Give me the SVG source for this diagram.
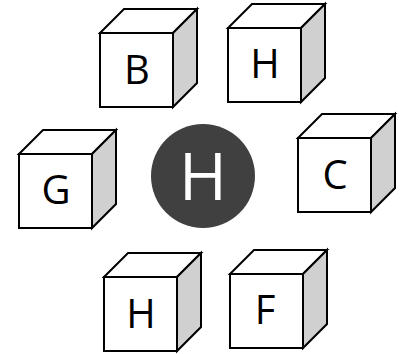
<svg xmlns="http://www.w3.org/2000/svg" width="402" height="354" viewBox="0 0 402 354">
<style>
.f{fill:#fff;stroke:#000;stroke-width:2;stroke-linejoin:miter}
.s{fill:#d0d0d0;stroke:#000;stroke-width:2}
.t{font-family:"Open Sans","Liberation Sans",sans-serif;font-size:40px;fill:#000;text-anchor:middle}
.c{font-family:"Open Sans","Liberation Sans",sans-serif;font-size:65px;fill:#fff;text-anchor:middle}
</style>
<defs>
<g id="cube">
<path class="f" d="M0,24 L24,0 L97,0 L73,24 Z"/>
<path class="s" d="M73,24 L97,0 L97,74 L73,98 Z"/>
<rect class="f" x="0" y="24" width="73" height="74"/>
</g>
</defs>
<g id="node-B"><use href="#cube" transform="translate(100,9)"/><text class="t" x="137" y="84">B</text></g>
<g id="node-H1"><use href="#cube" transform="translate(228,4)"/><text class="t" x="265" y="78">H</text></g>
<g id="node-G"><use href="#cube" transform="translate(19,130)"/><text class="t" x="56" y="204">G</text></g>
<g id="node-C"><use href="#cube" transform="translate(298,114)"/><text class="t" x="335" y="189">C</text></g>
<g id="node-H2"><use href="#cube" transform="translate(104,253)"/><text class="t" x="141" y="328">H</text></g>
<g id="node-F"><use href="#cube" transform="translate(230,250)"/><text class="t" x="265" y="324">F</text></g>
<g id="node-center"><circle cx="203" cy="176" r="52" fill="#404040"/><text class="c" x="203" y="200">H</text></g>
<g id="connectors"/>
</svg>
